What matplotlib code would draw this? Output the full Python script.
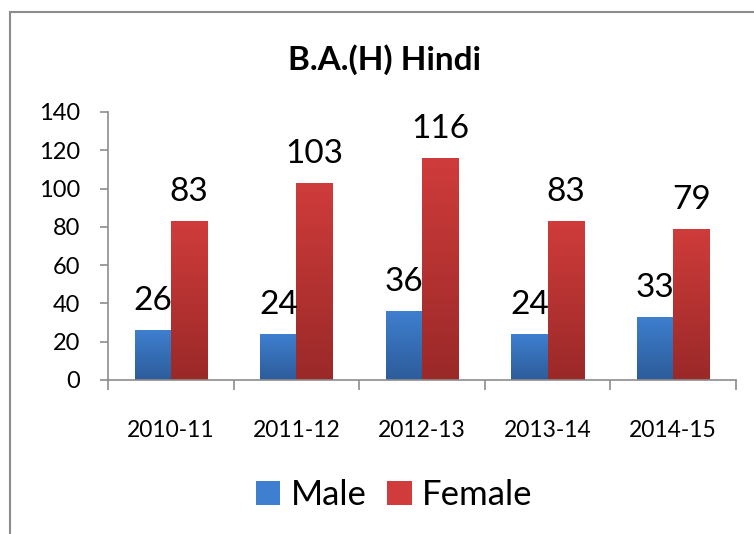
import numpy as np
import matplotlib
matplotlib.use("Agg")
import matplotlib.pyplot as plt
from matplotlib.colors import LinearSegmentedColormap
from matplotlib.patches import Rectangle

years = ["2010-11", "2011-12", "2012-13", "2013-14", "2014-15"]
male = [26, 24, 36, 24, 33]
female = [83, 103, 116, 83, 79]

plt.rcParams["font.family"] = ["Lato", "DejaVu Sans"]

BLUE_TOP, BLUE_BOT = "#3e7fcf", "#2d5c9a"
RED_TOP, RED_BOT = "#cf3c3b", "#9a2928"
SPINE = "#8c8c8c"


def gradient_bars(ax, bars, top, bottom):
    cmap = LinearSegmentedColormap.from_list("g", [bottom, top])
    grad = np.linspace(0, 1, 256).reshape(-1, 1)
    for b in bars:
        x, y = b.get_x(), b.get_y()
        w, h = b.get_width(), b.get_height()
        im = ax.imshow(grad, cmap=cmap, aspect="auto", origin="lower",
                       extent=(x, x + w, y, y + h), zorder=2)
        im.set_clip_path(b)
        b.set_facecolor("none")


fig = plt.figure(figsize=(7.54, 5.34), dpi=100)
ax = fig.add_axes([0.1432, 0.2884, 0.8328, 0.5019])

# chart frame (cropped on right/bottom)
fig.patches.append(Rectangle((0.0133, -0.05), 1.2, 0.9775 + 0.05, transform=fig.transFigure,
                             fill=False, edgecolor=SPINE, linewidth=1.5))

x = np.arange(len(years))
w = 0.287
bm = ax.bar(x - w / 2, male, w, color=BLUE_TOP, label="Male", zorder=2)
bf = ax.bar(x + w / 2, female, w, color=RED_TOP, label="Female", zorder=2)
gradient_bars(ax, bm, BLUE_TOP, BLUE_BOT)
gradient_bars(ax, bf, RED_TOP, RED_BOT)

for bars, vals in ((bm, male), (bf, female)):
    for b, v in zip(bars, vals):
        ax.annotate(str(v), (b.get_x() + b.get_width() / 2, v), xytext=(0, 10),
                    textcoords="offset points", ha="center", va="bottom",
                    fontsize=24, color="black")

ax.set_xlim(-0.5, len(years) - 0.5)
ax.set_ylim(0, 140)
ax.set_yticks(range(0, 141, 20))
ax.tick_params(axis="y", labelsize=17, length=6, width=1.2, color=SPINE, pad=14)

ax.set_xticks(x)
ax.set_xticklabels(years, fontsize=16.5)
ax.set_xticks(np.arange(-0.5, len(years)), minor=True)
ax.tick_params(axis="x", which="major", length=0, pad=29)
ax.tick_params(axis="x", which="minor", length=7, width=1.2, color=SPINE)

for s in ("top", "right"):
    ax.spines[s].set_visible(False)
for s in ("left", "bottom"):
    ax.spines[s].set_color(SPINE)
    ax.spines[s].set_linewidth(1.2)

fig.text(0.51, 0.888, "B.A.(H) Hindi", ha="center", va="center",
         fontsize=24, fontweight="bold")

handles = [Rectangle((0, 0), 1, 1, facecolor=BLUE_TOP), Rectangle((0, 0), 1, 1, facecolor=RED_TOP)]
fig.legend(handles, ["Male", "Female"], loc="center", bbox_to_anchor=(0.523, 0.073),
           ncol=2, frameon=False, fontsize=25, handlelength=0.7, handleheight=0.7,
           handletextpad=0.3, columnspacing=0.6)

fig.savefig("out.png", dpi=100)
